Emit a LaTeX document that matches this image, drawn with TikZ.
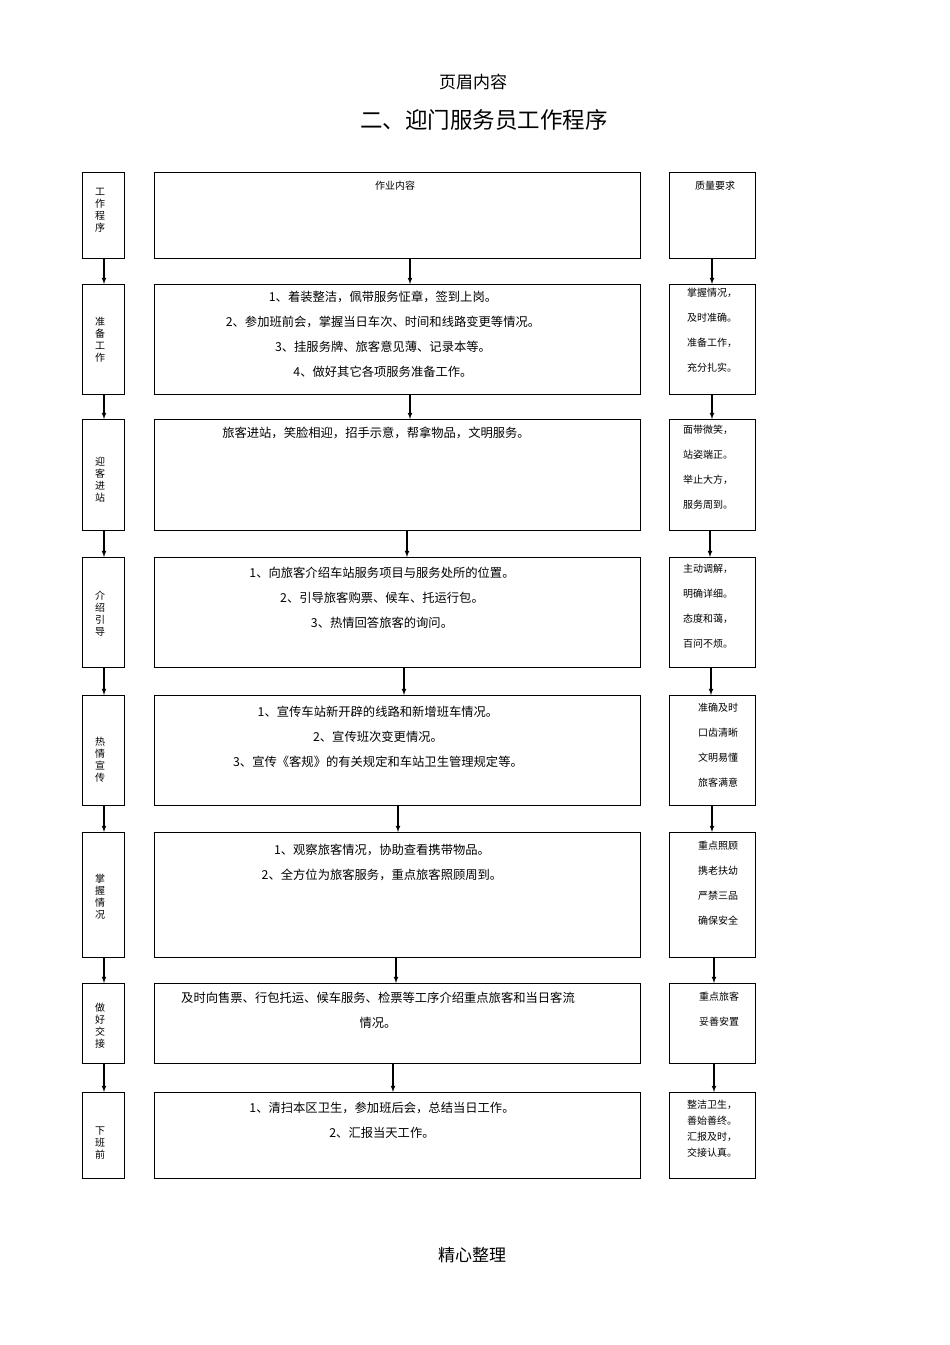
\documentclass[tikz,border=0pt]{standalone}
\usepackage{fontspec}
\setmainfont{Noto Sans CJK SC}
\begin{document}
\begin{tikzpicture}[x=1pt,y=-1pt,
 bx/.style={draw,line width=0.9pt},
 arr/.style={-latex,line width=1.1pt},
 lt/.style={font=\fontsize{10}{12}\selectfont,align=center},
 mt/.style={font=\fontsize{12.3}{25}\selectfont,align=center},
 rt/.style={font=\fontsize{10}{25}\selectfont,align=center}]
\useasboundingbox (0,0) rectangle (950,1345);
\node[font=\fontsize{17}{19}\selectfont] (hd) at (473,82) {页眉内容};
\node[font=\fontsize{22.5}{24}\selectfont] (tt) at (484,120) {二、迎门服务员工作程序};
\node[font=\fontsize{17}{19}\selectfont] (ft) at (472,1255) {精心整理};
\foreach \i/\t/\b/\mx/\rx in {1/172/258/410/712,2/284/394/410/712,3/419/530/407/710,4/557/667/404/711,5/695/805/398/712,6/832/957/396/714,7/983/1063/393/714,8/1092/1178/393/714}{
 \draw[bx] (82,\t) rectangle (124,\b);
 \draw[bx] (154,\t) rectangle (640,\b);
 \draw[bx] (669,\t) rectangle (755,\b);
 \coordinate (L\i t) at (104,\t); \coordinate (L\i b) at (104,\b);
 \coordinate (M\i t) at (\mx,\t); \coordinate (M\i b) at (\mx,\b);
 \coordinate (R\i t) at (\rx,\t); \coordinate (R\i b) at (\rx,\b);
}
\foreach \i/\j/\mx/\rx in {1/2/410/712,2/3/410/712,3/4/407/710,4/5/404/711,5/6/398/712,6/7/396/714,7/8/393/714}{
 \draw[arr] (L\i b) -- (L\j t);
 \draw[arr] (\mx,0|-M\i b) -- (\mx,0|-M\j t);
 \draw[arr] (\rx,0|-R\i b) -- (\rx,0|-R\j t);
}
\node[lt] (l1) at (100,210) {工\\作\\程\\序};
\node[lt] (l2) at (100,340) {准\\备\\工\\作};
\node[lt] (l3) at (100,480) {迎\\客\\进\\站};
\node[lt] (l4) at (100,614) {介\\绍\\引\\导};
\node[lt] (l5) at (100,760) {热\\情\\宣\\传};
\node[lt] (l6) at (100,897) {掌\\握\\情\\况};
\node[lt] (l7) at (100,1026) {做\\好\\交\\接};
\node[lt] (l8) at (100,1143) {下\\班\\前};
\node[font=\fontsize{10}{12}\selectfont] (m1) at (395,186) {作业内容};
\node[mt,anchor=north] (m2) at (383,287) {1、着装整洁，佩带服务怔章，签到上岗。\\2、参加班前会，掌握当日车次、时间和线路变更等情况。\\3、挂服务牌、旅客意见薄、记录本等。\\4、做好其它各项服务准备工作。};
\node[mt,anchor=north] (m3) at (376,423) {旅客进站，笑脸相迎，招手示意，帮拿物品，文明服务。};
\node[mt,anchor=north] (m4) at (382,564) {1、向旅客介绍车站服务项目与服务处所的位置。\\2、引导旅客购票、候车、托运行包。\\3、热情回答旅客的询问。};
\node[mt,anchor=north] (m5) at (378,703) {1、宣传车站新开辟的线路和新增班车情况。\\2、宣传班次变更情况。\\3、宣传《客规》的有关规定和车站卫生管理规定等。};
\node[mt,anchor=north] (m6) at (382,841) {1、观察旅客情况，协助查看携带物品。\\2、全方位为旅客服务，重点旅客照顾周到。};
\node[mt,anchor=north] (m7) at (378,989) {及时向售票、行包托运、候车服务、检票等工序介绍重点旅客和当日客流\\情况。};
\node[mt,anchor=north] (m8) at (382,1099) {1、清扫本区卫生，参加班后会，总结当日工作。\\2、汇报当天工作。};
\node[font=\fontsize{10}{12}\selectfont] (r1) at (715,186) {质量要求};
\node[rt,anchor=north] (r2) at (712,285) {掌握情况，\\及时准确。\\准备工作，\\充分扎实。};
\node[rt,anchor=north] (r3) at (708,422) {面带微笑，\\站姿端正。\\举止大方，\\服务周到。};
\node[rt,anchor=north] (r4) at (708,561) {主动调解，\\明确详细。\\态度和蔼，\\百问不烦。};
\node[rt,anchor=north] (r5) at (718,700) {准确及时\\口齿清晰\\文明易懂\\旅客满意};
\node[rt,anchor=north] (r6) at (718,838) {重点照顾\\携老扶幼\\严禁三品\\确保安全};
\node[rt,anchor=north] (r7) at (719,988) {重点旅客\\妥善安置};
\node[font=\fontsize{10}{16}\selectfont,align=center,anchor=north] (r8) at (712,1097) {整洁卫生，\\善始善终。\\汇报及时，\\交接认真。};
\end{tikzpicture}
\end{document}
